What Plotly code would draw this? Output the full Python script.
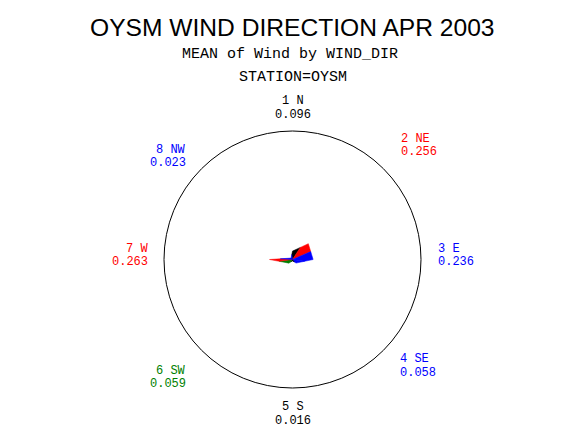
import math
import plotly.graph_objects as go

# ---- data ----
dir_numbers = [1, 2, 3, 4, 5, 6, 7, 8]
directions = ["N", "NE", "E", "SE", "S", "SW", "W", "NW"]
wind_means = [0.096, 0.256, 0.236, 0.058, 0.016, 0.059, 0.263, 0.023]
dir_angles = [0, 45, 90, 135, 180, 225, 270, 315]

title_text = "OYSM WIND DIRECTION APR 2003"
subtitle_text = "MEAN of Wind by WIND_DIR"
station_text = "STATION=OYSM"

# ---- styles ----
dir_colors = ["#000000", "#FF0000", "#0000FF", "#0000FF",
              "#000000", "#008000", "#FF0000", "#0000FF"]

W, H = 570, 430
CX, CY, R = 284.5, 251.5, 128.5
RMAX = 1.47


def px(x):
    return x / W


def py(y):
    return 1 - y / H


def to_xy(r, th):
    a = math.radians(th)
    return r * math.sin(a), r * math.cos(a)


def to_rt(x, y):
    return math.hypot(x, y), math.degrees(math.atan2(x, y)) % 360


fig = go.Figure()
n = len(wind_means)
pts = [to_xy(wind_means[i], dir_angles[i]) for i in range(n)]
for i in range(n):
    prev_p = pts[(i - 1) % n]
    next_p = pts[(i + 1) % n]
    cur = pts[i]
    m1 = ((prev_p[0] + cur[0]) / 2, (prev_p[1] + cur[1]) / 2)
    m2 = ((next_p[0] + cur[0]) / 2, (next_p[1] + cur[1]) / 2)
    r1, t1 = to_rt(*m1)
    r2, t2 = to_rt(*m2)
    rs = [0, r1, wind_means[i], r2, 0]
    ts = [dir_angles[i], t1, dir_angles[i], t2, dir_angles[i]]
    fig.add_trace(go.Scatterpolar(
        r=rs, theta=ts, mode="lines", fill="toself",
        fillcolor=dir_colors[i], line=dict(color=dir_colors[i], width=0.5),
        hoverinfo="skip", showlegend=False))

fig.update_layout(
    width=W, height=H,
    margin=dict(l=0, r=0, t=0, b=0),
    paper_bgcolor="white",
    showlegend=False,
    polar=dict(
        domain=dict(x=[px(CX - R), px(CX + R)], y=[py(CY + R), py(CY - R)]),
        bgcolor="white",
        radialaxis=dict(visible=False, range=[0, RMAX]),
        angularaxis=dict(rotation=90, direction="clockwise",
                         showline=True, linecolor="black", linewidth=1,
                         showgrid=False, showticklabels=False, ticks=""),
    ),
)

mono = "Liberation Mono"
ann = []
ann.append(dict(x=px(284), y=py(20), text=title_text, showarrow=False,
                xanchor="center", yanchor="middle",
                font=dict(family="Liberation Sans", size=24.6, color="black")))
ann.append(dict(x=px(282), y=py(46), text=subtitle_text, showarrow=False,
                xanchor="center", yanchor="middle",
                font=dict(family=mono, size=15, color="black")))
ann.append(dict(x=px(284.5), y=py(69), text=station_text, showarrow=False,
                xanchor="center", yanchor="middle",
                font=dict(family=mono, size=15, color="black")))

# label anchors (pixel positions): x, centre y of the two-line block, anchor
label_pos = [
    (284.5, 100, "center"),
    (391, 137.5, "left"),
    (428, 247.5, "left"),
    (390, 358, "left"),
    (285, 406, "center"),
    (180, 369.5, "right"),
    (142, 247.5, "right"),
    (180, 148.5, "right"),
]
HALF = 6.75
for i in range(n):
    x, yc, anc = label_pos[i]
    for y, t in ((yc - HALF, f"{dir_numbers[i]} {directions[i]}"),
                 (yc + HALF, f"{wind_means[i]:.3f}")):
        ann.append(dict(x=px(x), y=py(y), text=t, showarrow=False,
                        xanchor=anc, yanchor="middle",
                        font=dict(family=mono, size=12, color=dir_colors[i])))
fig.update_layout(annotations=ann)

fig.write_html("out.html")
